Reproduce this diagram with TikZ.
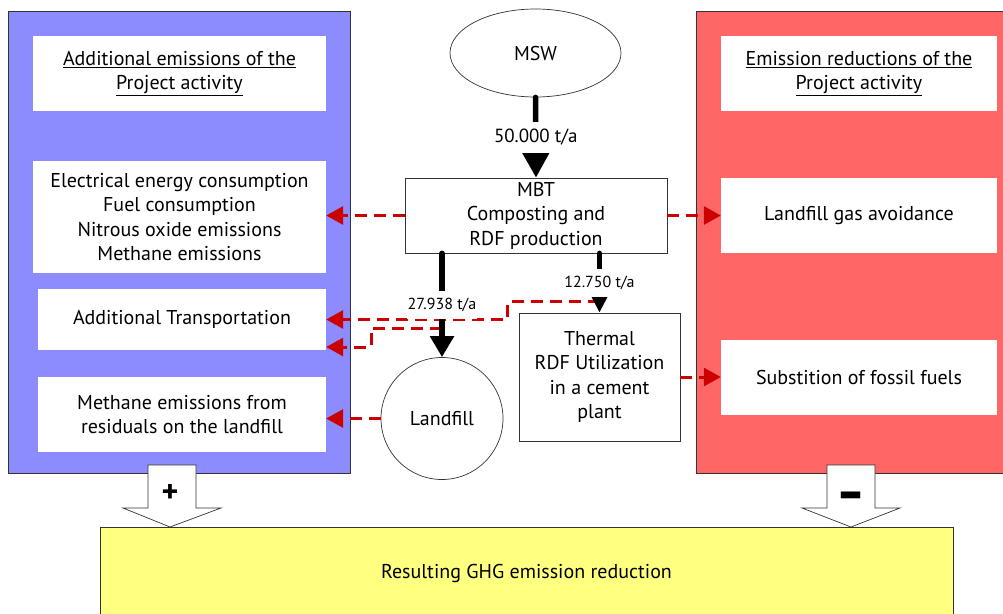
\documentclass[tikz,border=0pt]{standalone}
\usepackage{fontspec}
\usepackage{graphicx}
\setmainfont{PT Sans}
\usetikzlibrary{arrows.meta,shapes.geometric}
\definecolor{panelblue}{HTML}{8C8CFF}
\definecolor{panelred}{HTML}{FF6666}
\definecolor{resultyellow}{HTML}{FFFF80}
\definecolor{emisred}{HTML}{CC0000}
\definecolor{edgegray}{HTML}{333333}
\tikzset{
  txt/.style={font=\fontsize{20}{24.5}\selectfont, align=center, inner sep=0pt},
  panel/.style={draw=edgegray, line width=0.8pt, inner sep=0pt},
  whitebox/.style={txt, fill=white},
  procbox/.style={txt, draw=edgegray, line width=0.7pt, fill=white},
  flow/.style={line width=5.5pt, line cap=round, black},
  flowlabel/.style={fill=white, inner xsep=1pt, inner ysep=7pt, align=center},
  emis/.style={emisred, line width=3pt, dash pattern=on 12pt off 7pt,
    -{Triangle[length=17pt,width=18pt]}},
  blockarrow/.style={draw=edgegray, line width=0.7pt, fill=white},
}
\begin{document}
\begin{tikzpicture}[x=1pt,y=-1pt]
\useasboundingbox (0,0) rectangle (1003,613);

% side panels
\node[panel, fill=panelblue, minimum width=342, minimum height=462] (addpanel) at (179,242) {};
\node[panel, fill=panelred, minimum width=314, minimum height=462] (redpanel) at (853,242) {};

% boxes of the additional-emissions panel
\node[whitebox, minimum width=293, minimum height=75] (addtitle) at (179.5,73.5)
  {\underline{Additional emissions of the}\\\underline{Project activity}};
\node[whitebox, minimum width=293, minimum height=112] (elec) at (179.5,217)
  {Electrical energy consumption\\Fuel consumption\\Nitrous oxide emissions\\Methane emissions};
\node[whitebox, minimum width=288, minimum height=61] (trans) at (182,319.5)
  {Additional Transportation};
\node[whitebox, minimum width=288, minimum height=75] (meth) at (182,414.5)
  {Methane emissions from\\residuals on the landfill};

% boxes of the emission-reductions panel
\node[whitebox, minimum width=276, minimum height=75] (redtitle) at (859,73.5)
  {\underline{Emission reductions of the}\\\underline{Project activity}};
\node[whitebox, minimum width=276, minimum height=75] (lfgas) at (859,215.5)
  {Landfill gas avoidance};
\node[whitebox, minimum width=276, minimum height=75] (subst) at (859,377.5)
  {Substition of fossil fuels};

% process chain
\node[procbox, ellipse, minimum width=171, minimum height=88] (msw) at (535.5,53) {MSW};
\node[procbox, minimum width=262, minimum height=75] (mbt) at (536,215.5)
  {MBT\\Composting and\\RDF production};
\node[procbox, minimum width=161, minimum height=128] (thermal) at (599.5,377)
  {Thermal\\RDF Utilization\\in a cement\\plant};
\node[procbox, circle, minimum size=122] (landfill) at (442,418.5) {Landfill};

% emission links
\coordinate (rdfsplit) at ([yshift=11pt]thermal.north);
\coordinate (lfsplit) at (442,328);
\coordinate (trans2) at ([yshift=-27.5pt]trans.east);
\draw[emis] (mbt.west) -- (mbt.west -| elec.east);
\draw[emis] (mbt.east) -- (mbt.east -| lfgas.west);
\draw[emis] (thermal.east) -- (thermal.east -| subst.west);
\draw[emis] (landfill.west) -- (landfill.west -| meth.east);
\draw[emis] (rdfsplit) -- ++(-92,0) |- (trans.east);
\draw[emis] (lfsplit) -- ++(-71,0) |- (trans2);

% mass flows
\draw[flow, -{Triangle[length=25pt,width=26pt]}] (msw.south) --
  node[flowlabel, font=\fontsize{19}{20}\selectfont] {50.000 t/a} (mbt.north);
\draw[flow, -{Triangle[length=21pt,width=23pt]}] (mbt.south -| landfill.north) --
  node[flowlabel, font=\fontsize{16}{18}\selectfont] {27.938 t/a} (landfill.north);
\draw[flow, -{Triangle[length=19pt,width=18pt]}] (mbt.south -| thermal.north) --
  node[flowlabel, font=\fontsize{16}{18}\selectfont] {12.750 t/a} (thermal.north);

% summation arrows and result
\draw[blockarrow] (148,465) -- (196,465) -- (196,508) -- (221,508) -- (170,527)
  -- (123,508) -- (148,508) -- cycle;
\draw[blockarrow] (827,465) -- (875,465) -- (875,508) -- (900,508) -- (851,527)
  -- (802,508) -- (827,508) -- cycle;
\node[font=\fontsize{32}{32}\selectfont\bfseries] (plus) at (170,493) {+};
\node[inner sep=0pt, anchor=north] (minus) at (851,492)
  {\scalebox{1}[1.35]{\resizebox{29pt}{!}{\bfseries –}}};
\node[txt, draw=edgegray, line width=0.7pt, fill=resultyellow,
  minimum width=853, minimum height=92] (result) at (526.5,573)
  {Resulting GHG emission reduction};
\end{tikzpicture}
\end{document}
